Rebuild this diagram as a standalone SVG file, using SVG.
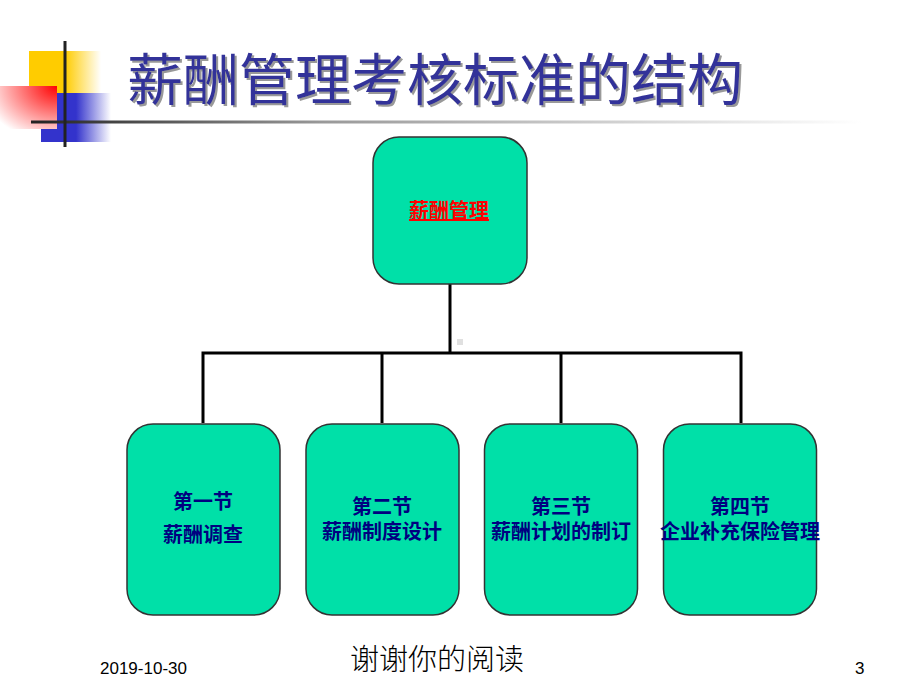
<svg xmlns="http://www.w3.org/2000/svg" width="920" height="690" viewBox="0 0 920 690">
<defs>
<linearGradient id="gYellow" x1="0" y1="0" x2="1" y2="0">
<stop offset="0" stop-color="#FFCC00"/><stop offset="0.5" stop-color="#FFCC00"/><stop offset="1" stop-color="#FFFFFF"/>
</linearGradient>
<linearGradient id="gBlue" x1="0" y1="0" x2="1" y2="0">
<stop offset="0" stop-color="#3333CC"/><stop offset="0.5" stop-color="#3333CC"/><stop offset="1" stop-color="#FFFFFF"/>
</linearGradient>
<radialGradient id="gRed" cx="1" cy="0" r="1.3" fx="1" fy="0">
<stop offset="0" stop-color="#FF0000"/><stop offset="1" stop-color="#FFFFFF"/>
</radialGradient>
<linearGradient id="gLine" x1="0" y1="0" x2="1" y2="0">
<stop offset="0" stop-color="#222222"/><stop offset="0.35" stop-color="#999999"/><stop offset="1" stop-color="#FFFFFF"/>
</linearGradient>
<filter id="shadow" x="-5%" y="-20%" width="110%" height="140%">
<feOffset in="SourceAlpha" dx="2" dy="2" result="off"/>
<feFlood flood-color="#999999"/>
<feComposite in2="off" operator="in" result="sh"/>
<feMerge><feMergeNode in="sh"/><feMergeNode in="SourceGraphic"/></feMerge>
</filter>
<style>
.box{fill:#00E0A8;stroke:#333333;stroke-width:1.5}
.lbl{font-family:"Liberation Sans","Noto Sans CJK SC",sans-serif;font-size:20px;font-weight:bold;fill:#000080;text-anchor:middle}
.conn{stroke:#000000;stroke-width:3;fill:none}
.foot{font-family:"Liberation Sans",sans-serif;font-size:17px;fill:#000000}
</style>
</defs>
<rect width="920" height="690" fill="#FFFFFF"/>
<!-- decoration -->
<rect x="29" y="51" width="72" height="42" fill="url(#gYellow)"/>
<rect x="41" y="93" width="70" height="49" fill="url(#gBlue)"/>
<rect x="0" y="86" width="57" height="43" fill="url(#gRed)"/>
<rect x="31" y="120.5" width="830" height="3" fill="url(#gLine)"/>
<rect x="63.5" y="41" width="3" height="106" fill="#222222"/>
<!-- title -->
<text x="127" y="100" font-family="'Noto Sans CJK SC',sans-serif" font-size="56" fill="#333399" filter="url(#shadow)">薪酬管理考核标准的结构</text>
<!-- connectors -->
<g id="connectors">
<path class="conn" d="M450 284 V353"/>
<path class="conn" d="M203 423 V353 H741 V423"/>
<path class="conn" d="M382 353 V423"/>
<path class="conn" d="M561 353 V423"/>
</g>
<rect x="457" y="339" width="6" height="6" fill="#E0E0E0"/>
<!-- nodes -->
<g id="root">
<rect class="box" x="373" y="137" width="154" height="147" rx="26"/>
<text x="449" y="218" font-family="'Liberation Sans','Noto Sans CJK SC',sans-serif" font-size="20" font-weight="bold" fill="#FF0000" text-anchor="middle" text-decoration="underline">薪酬管理</text>
</g>
<g id="n1">
<rect class="box" x="127" y="424" width="153" height="191" rx="26"/>
<text class="lbl" x="203" y="509">第一节</text>
<text class="lbl" x="203" y="542">薪酬调查</text>
</g>
<g id="n2">
<rect class="box" x="306" y="424" width="153" height="191" rx="26"/>
<text class="lbl" x="382" y="514">第二节</text>
<text class="lbl" x="382" y="539">薪酬制度设计</text>
</g>
<g id="n3">
<rect class="box" x="484.5" y="424" width="153" height="191" rx="26"/>
<text class="lbl" x="561" y="514">第三节</text>
<text class="lbl" x="561" y="539">薪酬计划的制订</text>
</g>
<g id="n4">
<rect class="box" x="663.5" y="424" width="153" height="191" rx="26"/>
<text class="lbl" x="740" y="514">第四节</text>
<text class="lbl" x="740" y="539">企业补充保险管理</text>
</g>
<!-- footer -->
<text class="foot" x="100" y="674">2019-10-30</text>
<text x="437" y="670" font-family="'Noto Sans CJK SC',serif" font-size="29" font-weight="300" fill="#000000" text-anchor="middle">谢谢你的阅读</text>
<text class="foot" x="855" y="674">3</text>
</svg>
